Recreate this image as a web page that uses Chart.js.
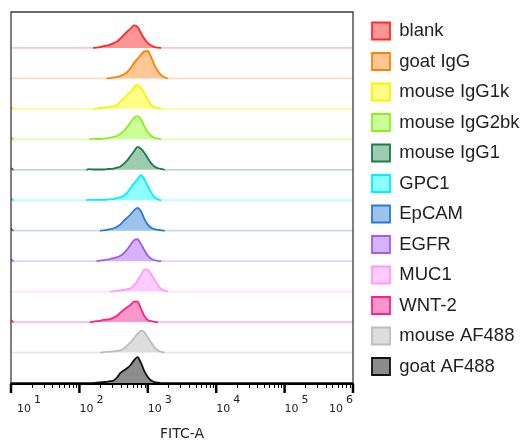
<!DOCTYPE html>
<html>
<head>
<meta charset="utf-8">
<script src="https://cdn.jsdelivr.net/npm/chart.js@4.4.1/dist/chart.umd.min.js"></script>
<style>
  html, body { margin: 0; padding: 0; background: #fff; }
  #wrap { width: 524px; height: 441px; }
</style>
</head>
<body>
<div id="wrap"><canvas id="histo" width="524" height="441"></canvas></div>
<script>
// FITC-A bin positions (log spaced), counts are % of panel height
var fitcBins = [126, 141, 158, 178, 200, 224, 251, 282, 316, 355, 398, 447, 501,
  562, 631, 708, 794, 891, 1000, 1122, 1259, 1413, 1585, 1778, 1995, 2239];

var samples = ["blank", "goat IgG", "mouse IgG1k", "mouse IgG2bk", "mouse IgG1",
  "GPC1", "EpCAM", "EGFR", "MUC1", "WNT-2", "mouse AF488", "goat AF488"];

var blank =       [0,0,0,1,3,6,8,11,16,21,31,43,54,64,74,69,49,30,16,8,3,1,0,0,0,0];
var goatIgG =     [0,0,0,0,0,0,0,1,3,5,8,13,21,34,51,64,77,89,90,69,43,23,10,3,0,0];
var mouseIgG1k =  [0,0,0,1,3,4,5,7,8,13,23,34,44,56,71,79,69,51,30,13,5,2,0,0,0,0];
var mouseIgG2bk = [0,0,2,1,1,2,3,5,8,11,18,28,41,56,71,76,66,43,23,11,5,2,0,0,0,0];
var mouseIgG1 =   [0,2,1,1,1,1,2,3,4,7,11,20,31,46,61,75,69,56,38,21,11,5,3,0,0,0];
var gpc1 =        [0,2,1,1,1,1,2,3,4,7,10,15,25,41,56,69,82,69,46,25,10,3,0,0,0,0];
var epcam =       [0,0,0,0,0,1,3,5,8,13,21,33,43,54,67,75,64,39,20,10,5,3,1,0,0,0];
var egfr =        [0,0,0,0,2,3,5,7,10,13,18,26,39,54,69,72,56,36,18,8,3,1,0,0,0,0];
var muc1 =        [0,0,0,0,0,0,0,0,1,3,4,6,8,11,21,36,54,72,71,57,38,20,8,3,0,0];
var wnt2 =        [0,0,1,3,4,7,8,10,15,21,31,41,49,57,67,67,44,20,7,3,1,0,0,0,0,0];
var mouseAF488 =  [0,0,0,0,0,1,2,3,4,6,7,13,23,34,48,61,72,67,49,33,16,7,2,0,0,0];
var goatAF488 =   [0,0,0,1,2,3,4,6,8,18,33,41,49,59,75,85,66,39,20,8,3,1,0,0,0,0];

// small pile-up of events in the lowest channel
var edgeCounts = [0, 0, 6, 6, 6, 6, 6, 6, 0, 6, 0, 0];

var xTicks = [1, 2, 3, 4, 5, 6]; // decades shown as 10^n

var strokeColors = ["#ff2a2a", "#ff8000", "#f6f600", "#8cf020", "#1e7a48", "#00f0ff",
  "#2a7ad4", "#a05cf0", "#ff99ff", "#ff1f8a", "#bdbdbd", "#111111"];
var fillColors = ["#ff9595", "#ffc794", "#ffff88", "#ccff99", "#9dcbb0", "#8effff",
  "#9cc3ec", "#d6b3ff", "#ffccff", "#ff96c8", "#dddddd", "#8c8c8c"];
var baseColors = ["#ffc4c4", "#ffdcb8", "#ffff99", "#ddffbb", "#bcdcc8", "#bbffff",
  "#c4dcf4", "#e4d0ff", "#ffe0ff", "#ffb8d8", "#e8e8e8", "#444444"];

var series = [blank, goatIgG, mouseIgG1k, mouseIgG2bk, mouseIgG1, gpc1, epcam,
  egfr, muc1, wnt2, mouseAF488, goatAF488];

var plotRight = 353;

var datasets = series.map(function (counts, i) {
  var offset = samples.length - 1 - i;
  var pts = [{ x: 10, y: offset + edgeCounts[i] / 100 }, { x: 11, y: offset }];
  fitcBins.forEach(function (b, j) {
    pts.push({ x: b, y: offset + counts[j] / 100 });
  });
  pts.push({ x: 1000000, y: offset });
  return {
    label: samples[i],
    data: pts,
    borderColor: strokeColors[i],
    backgroundColor: fillColors[i],
    borderWidth: 1.8,
    pointRadius: 0,
    cubicInterpolationMode: "monotone",
    fill: { value: offset },
    segment: {
      borderColor: function (ctx) {
        var flat = Math.abs(ctx.p0.parsed.y - offset) < 1e-6 &&
          Math.abs(ctx.p1.parsed.y - offset) < 1e-6;
        return flat ? baseColors[i] : strokeColors[i];
      },
    },
  };
});

// put the legend column where the original has it
var legendPlace = {
  id: "legendPlace",
  afterLayout: function (chart) {
    var lg = chart.legend;
    lg.left = 360;
    lg.right = 524;
    lg.top = 9.75;
    lg.bottom = 441;
  },
};

// frame, log ticks and 10^n labels
var axisDecor = {
  id: "axisDecor",
  afterDraw: function (chart) {
    var ctx = chart.ctx;
    var a = chart.chartArea;
    var x = chart.scales.x;
    ctx.save();
    ctx.strokeStyle = "#3a3a3a";
    ctx.lineWidth = 1.3;
    ctx.beginPath();
    ctx.moveTo(a.left, a.bottom);
    ctx.lineTo(a.left, a.top);
    ctx.lineTo(a.right, a.top);
    ctx.lineTo(a.right, a.bottom);
    ctx.stroke();

    ctx.strokeStyle = "#000";
    ctx.lineWidth = 2;
    ctx.beginPath();
    ctx.moveTo(a.left - 1, a.bottom + 1);
    ctx.lineTo(a.right + 1, a.bottom + 1);
    ctx.stroke();

    xTicks.forEach(function (e) {
      var px = x.getPixelForValue(Math.pow(10, e));
      ctx.lineWidth = 2.5;
      ctx.beginPath();
      ctx.moveTo(px, a.bottom + 1);
      ctx.lineTo(px, a.bottom + 10);
      ctx.stroke();
      if (e < 6) {
        ctx.lineWidth = 1;
        for (var m = 2; m <= 9; m++) {
          var mx = Math.round(x.getPixelForValue(m * Math.pow(10, e))) + 0.5;
          ctx.beginPath();
          ctx.moveTo(mx, a.bottom + 1);
          ctx.lineTo(mx, a.bottom + 5);
          ctx.stroke();
        }
      }
    });

    ctx.fillStyle = "#222";
    ctx.font = '11px "DejaVu Sans"';
    ctx.textBaseline = "alphabetic";
    ctx.textAlign = "left";
    xTicks.forEach(function (e, k) {
      var px = x.getPixelForValue(Math.pow(10, e));
      var w10 = ctx.measureText("10").width;
      var sup = String(e);
      var ws = ctx.measureText(sup).width;
      var total = w10 + 3 + ws;
      var left = px;
      if (k === 0) left = px + 6;
      if (left + total > a.right) left = px - total;
      ctx.fillText("10", left, a.bottom + 29);
      ctx.fillText(sup, left + w10 + 3, a.bottom + 20);
    });
    ctx.restore();
  },
};

var chart = new Chart(document.getElementById("histo").getContext("2d"), {
  type: "line",
  data: { datasets: datasets },
  options: {
    responsive: false,
    animation: false,
    layout: { padding: { left: 11, top: 12, right: 0, bottom: 0 } },
    scales: {
      x: {
        type: "logarithmic",
        min: 10,
        max: 1000000,
        ticks: { display: false },
        grid: { display: false, drawTicks: false },
        border: { display: false },
        title: {
          display: true,
          text: "FITC-A",
          color: "#222",
          font: { family: "DejaVu Sans", size: 14, lineHeight: 1 },
          padding: { top: 44, bottom: 0 },
        },
      },
      y: { type: "linear", min: 0, max: 12.18, display: false },
    },
    plugins: {
      tooltip: { enabled: false },
      legend: {
        position: "right",
        align: "start",
        labels: {
          boxWidth: 18,
          boxHeight: 17,
          padding: 12,
          color: "#222",
          font: { family: "Liberation Sans", size: 18.5 },
        },
      },
    },
  },
  plugins: [legendPlace, axisDecor],
});

// make the plot frame end where the legend column starts
var shift = chart.chartArea.right - plotRight;
if (Math.abs(shift) > 0.5) {
  chart.options.layout.padding.right += shift;
  chart.update("none");
}
</script>
</body>
</html>
